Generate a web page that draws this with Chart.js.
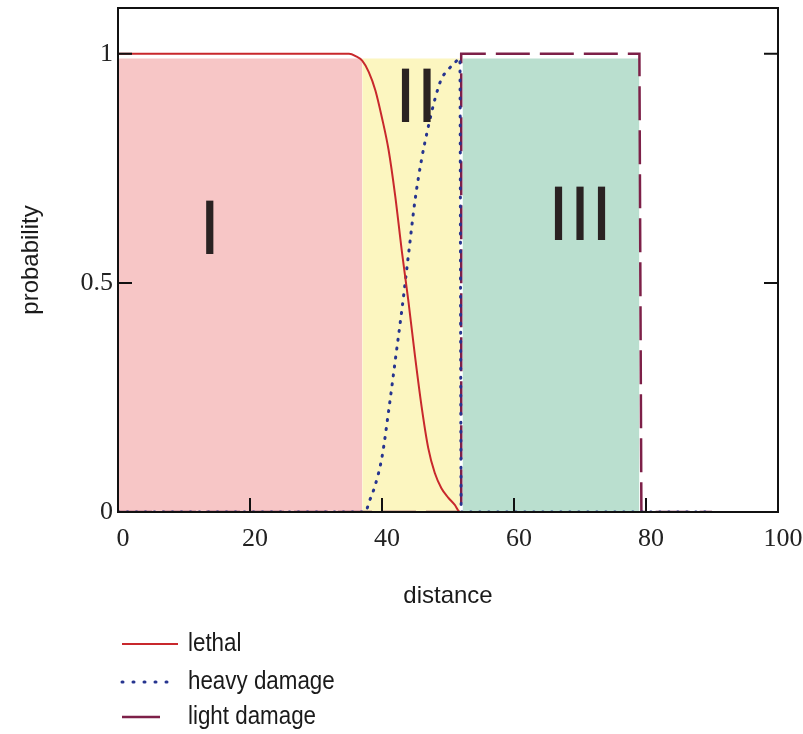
<!DOCTYPE html>
<html>
<head>
<meta charset="utf-8">
<title>probability vs distance</title>
<script src="https://cdn.jsdelivr.net/npm/chart.js@4.4.1/dist/chart.umd.min.js"></script>
<style>
  body { margin: 0; background: #fff; }
  #c { display: block; }
</style>
</head>
<body>
<canvas id="c" width="803" height="734"></canvas>
<script>
// probability curves against distance
var lethalX = [0, 35, 36, 37, 38, 39, 40, 41, 42, 43, 44, 45, 46, 47, 48, 49, 50, 51, 51.8, 90];
var lethalY = [1, 1, 0.995, 0.985, 0.96, 0.92, 0.86, 0.79, 0.69, 0.57, 0.46, 0.34, 0.23, 0.14, 0.085, 0.052, 0.032, 0.016, 0, 0];

var heavyX = [0, 37.5, 38, 39, 40, 41, 42, 43, 44, 45, 46, 47, 48, 49, 50, 51, 51.8, 52, 90];
var heavyY = [0, 0, 0.02, 0.06, 0.12, 0.22, 0.33, 0.44, 0.56, 0.68, 0.77, 0.84, 0.9, 0.945, 0.965, 0.98, 0.99, 0, 0];

var lightX = [0, 52, 52, 79, 79.3, 90];
var lightY = [0, 0, 1, 1, 0, 0];

// shaded zones I, II, III
var zoneNames = ['I', 'II', 'III'];
var zoneFrom = [0, 37, 52.2];
var zoneTo = [37, 51.8, 79];
var zoneTop = 0.99;
var zoneColors = ['#f7c6c6', '#fcf6c0', '#badfcf'];
var zoneLabelX = [13.9, 45.2, 70];
var zoneLabelY = [0.605, 0.893, 0.635];

var xTicks = [0, 20, 40, 60, 80, 100];
var yTicks = [0, 0.5, 1];

function pts(xs, ys) {
  return xs.map(function (x, i) { return { x: x, y: ys[i] }; });
}

var datasets = [
  { label: 'lethal', data: pts(lethalX, lethalY), borderColor: '#c8282c', borderWidth: 2,
    cubicInterpolationMode: 'monotone', pointRadius: 0, fill: false, order: 0 },
  { label: 'heavy damage', data: pts(heavyX, heavyY), borderColor: '#26348f', borderWidth: 3,
    borderDash: [1, 8], borderCapStyle: 'round', cubicInterpolationMode: 'monotone',
    pointRadius: 0, fill: false, order: 0 },
  { label: 'light damage', data: pts(lightX, lightY), borderColor: '#7d2048', borderWidth: 2.5,
    borderDash: [34, 10], tension: 0, pointRadius: 0, fill: false, order: 0 }
];

zoneNames.forEach(function (n, i) {
  datasets.push({
    label: 'zone ' + n,
    data: [{ x: zoneFrom[i], y: zoneTop }, { x: zoneTo[i], y: zoneTop }],
    backgroundColor: zoneColors[i], borderWidth: 0, pointRadius: 0,
    fill: 'origin', order: 10
  });
});

// frame, inward ticks, zone numerals and legend
var decor = {
  id: 'decor',
  afterDatasetsDraw: function (chart) {
    var ctx = chart.ctx, a = chart.chartArea;
    var xs = chart.scales.x, ys = chart.scales.y;
    ctx.save();

    ctx.fillStyle = '#2a2222';
    ctx.font = '73px "DejaVu Sans"';
    ctx.textAlign = 'center';
    ctx.textBaseline = 'middle';
    zoneNames.forEach(function (n, i) {
      ctx.fillText(n, xs.getPixelForValue(zoneLabelX[i]), ys.getPixelForValue(zoneLabelY[i]));
    });

    ctx.strokeStyle = '#111';
    ctx.lineWidth = 2;
    ctx.strokeRect(a.left, a.top, a.right - a.left, a.bottom - a.top);
    ctx.beginPath();
    xTicks.forEach(function (v) {
      var px = xs.getPixelForValue(v);
      ctx.moveTo(px, a.bottom); ctx.lineTo(px, a.bottom - 14);
    });
    yTicks.forEach(function (v) {
      var py = ys.getPixelForValue(v);
      ctx.moveTo(a.left, py); ctx.lineTo(a.left + 14, py);
      ctx.moveTo(a.right, py); ctx.lineTo(a.right - 14, py);
    });
    ctx.stroke();

    // legend
    var rows = [
      { ds: 0, y: 644, len: 56 },
      { ds: 1, y: 682, len: 46 },
      { ds: 2, y: 717, len: 38 }
    ];
    rows.forEach(function (r) {
      var d = chart.data.datasets[r.ds];
      ctx.strokeStyle = d.borderColor;
      ctx.lineWidth = d.borderWidth;
      ctx.lineCap = r.ds === 1 ? 'round' : 'butt';
      ctx.setLineDash(r.ds === 1 ? [1, 10] : []);
      ctx.beginPath();
      ctx.moveTo(122, r.y); ctx.lineTo(122 + r.len, r.y);
      ctx.stroke();
      ctx.setLineDash([]);

      ctx.save();
      ctx.translate(188, r.y);
      ctx.scale(0.86, 1);
      ctx.fillStyle = '#1a1a1a';
      ctx.font = '26px "Liberation Sans"';
      ctx.textAlign = 'left';
      ctx.textBaseline = 'middle';
      ctx.fillText(d.label, 0, 0);
      ctx.restore();
    });
    ctx.restore();
  }
};

new Chart(document.getElementById('c').getContext('2d'), {
  type: 'line',
  data: { datasets: datasets },
  options: {
    responsive: false,
    animation: false,
    layout: { padding: { top: 8, right: 25, bottom: 122, left: 0 } },
    plugins: { legend: { display: false }, tooltip: { enabled: false } },
    scales: {
      x: {
        type: 'linear', min: 0, max: 100,
        afterFit: function (s) { s.height = 100; s.paddingLeft = 0; s.paddingRight = 0; },
        afterBuildTicks: function (s) { s.ticks = xTicks.map(function (v) { return { value: v }; }); },
        grid: { display: false, drawTicks: false },
        border: { display: false },
        ticks: { font: { family: 'Liberation Serif', size: 26 }, color: '#222', padding: 12, labelOffset: 5, maxRotation: 0 },
        title: { display: true, text: 'distance', color: '#1a1a1a',
          font: { family: 'Liberation Sans', size: 24 }, padding: { top: 0, bottom: 1 } }
      },
      y: {
        type: 'linear', min: 0, max: 1.1,
        afterFit: function (s) { s.width = 118; s.paddingTop = 0; s.paddingBottom = 0; },
        afterBuildTicks: function (s) { s.ticks = yTicks.map(function (v) { return { value: v }; }); },
        grid: { display: false, drawTicks: false },
        border: { display: false },
        ticks: { font: { family: 'Liberation Serif', size: 26 }, color: '#222', padding: 5,
          callback: function (v) { return String(v); } },
        title: { display: true, text: 'probability', color: '#1a1a1a',
          font: { family: 'Liberation Sans', size: 24 }, padding: { top: 17, bottom: 0 } }
      }
    }
  },
  plugins: [decor]
});
</script>
</body>
</html>
